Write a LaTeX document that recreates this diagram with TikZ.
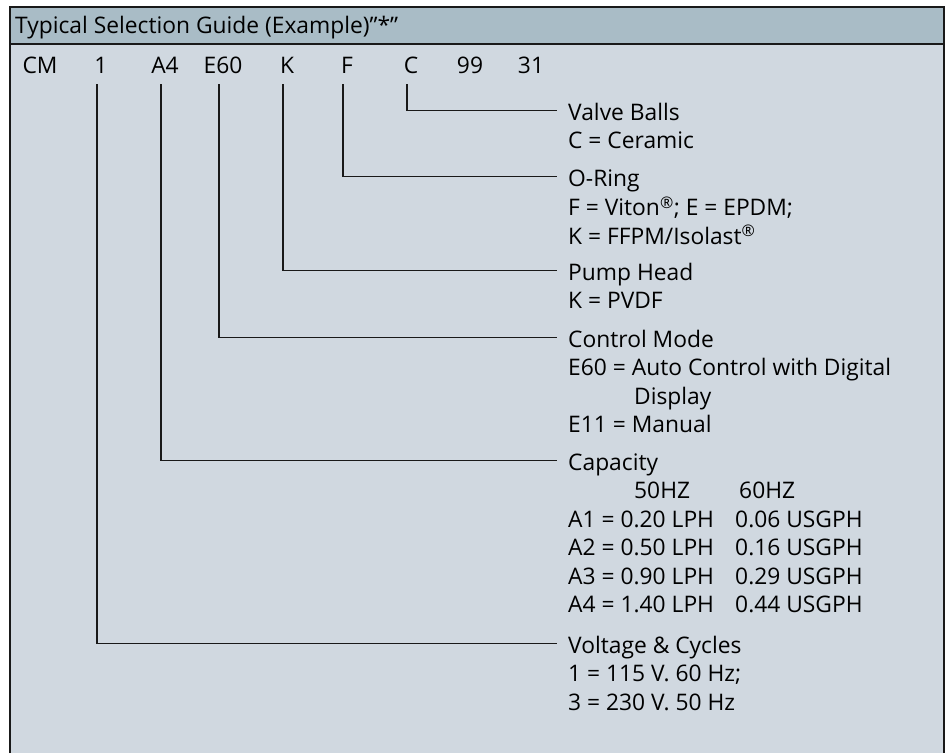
\documentclass[tikz,border=0pt]{standalone}
\usepackage{fontspec}
\setmainfont{Open Sans}
\usepackage{tikz}
\usetikzlibrary{positioning}
\definecolor{headblue}{HTML}{A9BCC6}
\definecolor{bodyblue}{HTML}{D0D8E0}
\newcommand{\guidefont}{\fontsize{22.8}{28.5}\selectfont}
\newcommand{\firstline}{\rule{0pt}{18pt}}
\tikzstyle{codepart} = [anchor=base, inner xsep=0pt, inner ysep=11pt, text depth=0pt, font=\guidefont]
\tikzstyle{heading} = [anchor=base west, inner xsep=11pt, inner ysep=0pt, text height=19pt, text depth=0pt, font=\guidefont]
\tikzstyle{detail} = [inner sep=0pt, align=left, font=\guidefont]
\tikzstyle{lead} = [line width=1.8pt, black!90]
\tikzstyle{frame} = [line width=2pt, black!90]

\begin{document}
\begin{tikzpicture}[x=1pt, y=-1pt]
\useasboundingbox (0,0) rectangle (951,753);
% panel
\fill [bodyblue] (10,44) rectangle (944,753);
\fill [headblue] (10,7) rectangle (944,44);
\draw [frame] (10,753) -- (10,7) -- (944,7) -- (944,753);
\draw [frame] (10,44) -- (944,44);
\node (guide) [anchor=base west, inner sep=0pt, font=\guidefont] at (15,33) {Typical Selection Guide (Example)”*”};

% order code
\node (c-cm) [codepart] at (40,73) {CM};
\node (c-volt) [codepart] at (101,73) {1};
\node (c-cap) [codepart] at (165,73) {A4};
\node (c-mode) [codepart] at (223,73) {E60};
\node (c-head) [codepart] at (287,73) {K};
\node (c-ring) [codepart] at (347,73) {F};
\node (c-ball) [codepart] at (411,73) {C};
\node (c-99) [codepart] at (470,73) {99};
\node (c-31) [codepart] at (531,73) {31};

% fields
\node (ball) [heading] at (557,120) {Valve Balls};
\node (ball-info) [detail, below right=10.5pt and 11pt of ball.base west] {\firstline C = Ceramic};
\node (ring) [heading] at (557,186) {O-Ring};
\node (ring-info) [detail, below right=10.5pt and 11pt of ring.base west] {\firstline F = Viton\textsuperscript{®}; E = EPDM;\\ K = FFPM/Isolast\textsuperscript{®}};
\node (head) [heading] at (557,280) {Pump Head};
\node (head-info) [detail, below right=10.5pt and 11pt of head.base west] {\firstline K = PVDF};
\node (mode) [heading] at (557,347) {Control Mode};
\node (mode-info) [detail, below right=10.5pt and 11pt of mode.base west] {\firstline E60 = Auto Control with Digital\\ \hspace*{66pt}Display\\ E11 = Manual};
\node (cap) [heading] at (557,470) {Capacity};
\node (cap-info) [detail, below right=10.5pt and 11pt of cap.base west] {\firstline\hspace*{66pt}\makebox[105pt][l]{50HZ}60HZ\\
  \makebox[167pt][l]{A1 = 0.20 LPH}0.06 USGPH\\
  \makebox[167pt][l]{A2 = 0.50 LPH}0.16 USGPH\\
  \makebox[167pt][l]{A3 = 0.90 LPH}0.29 USGPH\\
  \makebox[167pt][l]{A4 = 1.40 LPH}0.44 USGPH};
\node (volt) [heading] at (557,653) {Voltage \& Cycles};
\node (volt-info) [detail, below right=10.5pt and 11pt of volt.base west] {\firstline 1 = 115 V. 60 Hz;\\ 3 = 230 V. 50 Hz};

% leads
\draw [lead] ([xshift=-4pt]c-ball.south) |- (ball.west);
\draw [lead] ([xshift=-4pt]c-ring.south) |- (ring.west);
\draw [lead] ([xshift=-4pt]c-head.south) |- (head.west);
\draw [lead] ([xshift=-4pt]c-mode.south) |- (mode.west);
\draw [lead] ([xshift=-4pt]c-cap.south) |- (cap.west);
\draw [lead] ([xshift=-4pt]c-volt.south) |- (volt.west);
\end{tikzpicture}
\end{document}
